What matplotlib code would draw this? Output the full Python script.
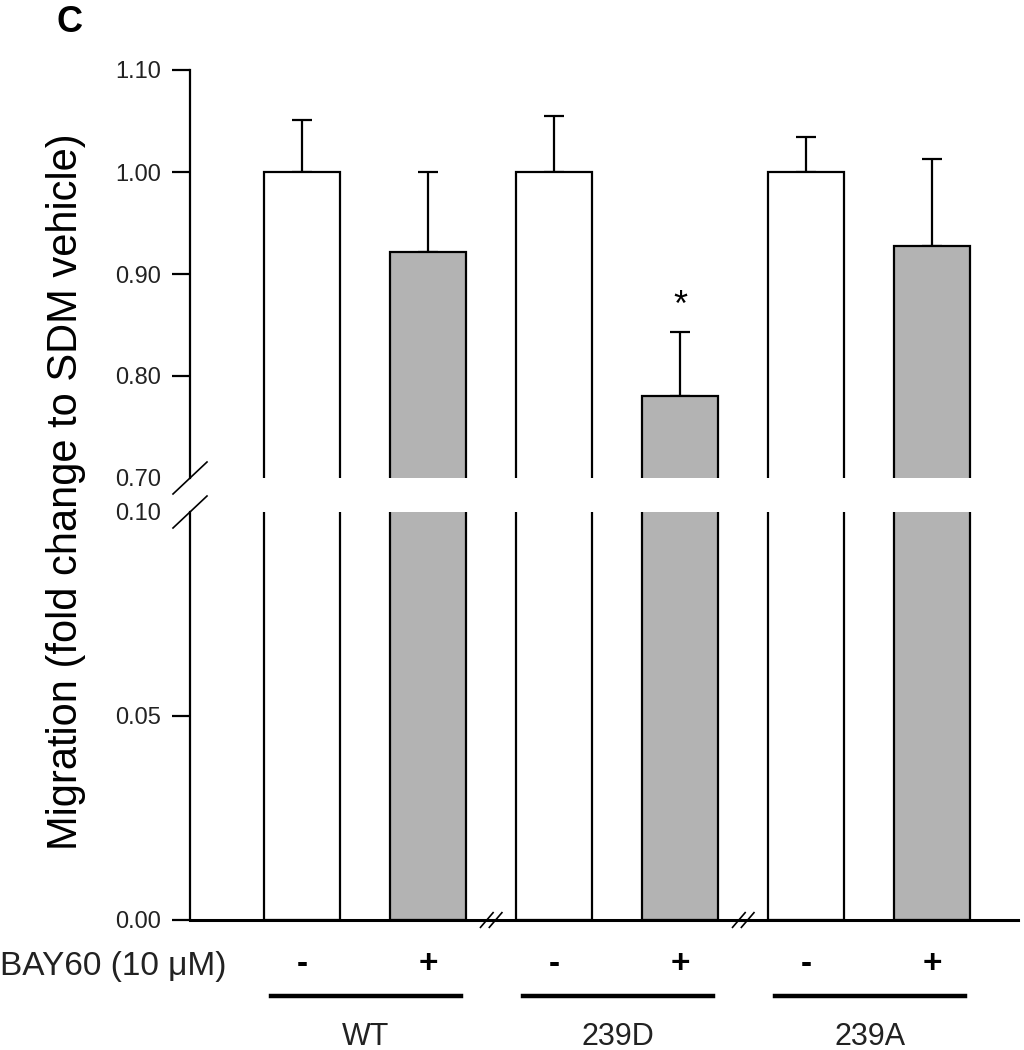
import matplotlib
matplotlib.use("Agg")
import matplotlib.pyplot as plt
import matplotlib.transforms as mtransforms
from matplotlib.lines import Line2D

plt.rcParams['font.family'] = ['Liberation Sans', 'DejaVu Sans']

# ---- data ----
groups = ["WT", "239D", "239A"]
treatments = ["-", "+", "-", "+", "-", "+"]
means = [1.000, 0.922, 1.000, 0.780, 1.000, 0.927]
errs = [0.051, 0.078, 0.055, 0.063, 0.034, 0.086]
bar_colors = ["white", "#b3b3b3", "white", "#b3b3b3", "white", "#b3b3b3"]
top_ticks = [0.70, 0.80, 0.90, 1.00, 1.10]
bottom_ticks = [0.00, 0.05, 0.10]
signif = ["", "", "", "*", "", ""]

x = list(range(len(means)))
W, H = 1024, 1050
fig = plt.figure(figsize=(W / 100, H / 100), dpi=100)

left_px, right_px = 190, 1018
def axrect(top_px, bot_px):
    return [left_px / W, 1 - bot_px / H, (right_px - left_px) / W, (bot_px - top_px) / H]

ax_top = fig.add_axes(axrect(70, 478))
ax_bot = fig.add_axes(axrect(512, 920))
xlim = (-0.89, 5.68)

lw = 1.6
for ax in (ax_top, ax_bot):
    ax.bar(x, means, width=0.6, color=bar_colors, edgecolor="black", linewidth=lw, zorder=2)
    ax.set_xlim(*xlim)
    ax.spines['top'].set_visible(False)
    ax.spines['right'].set_visible(False)
    ax.spines['left'].set_linewidth(lw)
    ax.set_xticks([])
    ax.tick_params(axis='y', direction='out', length=13, width=lw, labelsize=17, pad=8,
                   labelcolor='#222222')

ax_top.errorbar(x, means, yerr=[[0] * len(errs), errs], fmt='none', ecolor='black',
                elinewidth=lw, capsize=7, capthick=lw, zorder=1)
ax_top.set_ylim(0.70, 1.10)
ax_top.set_yticks(top_ticks)
ax_top.set_yticklabels([f"{t:.2f}" for t in top_ticks])
ax_top.spines['bottom'].set_visible(False)
ax_top.yaxis.get_major_ticks()[0].tick1line.set_visible(False)

ax_bot.set_ylim(0.0, 0.10)
ax_bot.set_yticks(bottom_ticks)
ax_bot.set_yticklabels([f"{t:.2f}" for t in bottom_ticks])
ax_bot.spines['bottom'].set_linewidth(2.2)
ax_bot.yaxis.get_major_ticks()[-1].tick1line.set_visible(False)

# significance marks
for xi, m, e, s in zip(x, means, errs, signif):
    if s:
        ax_top.text(xi, m + e + 0.008, s, ha='center', va='bottom', fontsize=26)

# y-axis break marks
dx = 17 / (right_px - left_px)
dy = 16 / 408
kw = dict(color='black', lw=1.2, clip_on=False)
ax_top.plot([-dx, dx], [-dy, dy], transform=ax_top.transAxes, **kw)
ax_bot.plot([-dx, dx], [1 - dy, 1 + dy], transform=ax_bot.transAxes, **kw)

# x-axis break marks
tb = mtransforms.blended_transform_factory(ax_bot.transData, ax_bot.transAxes)
for xb in (1.5, 3.5):
    for off in (-0.035, 0.035):
        ax_bot.plot([xb + off - 0.05, xb + off + 0.05], [-0.018, 0.018], transform=tb, **kw)

# labels
fig.text(66 / W, 1 - 492 / H, "Migration (fold change to SDM vehicle)", rotation=90,
         ha='center', va='center', fontsize=30)
fig.text(56 / W, 1 - 23 / H, "C", ha='left', va='center', fontsize=26, fontweight='bold')

tf = mtransforms.blended_transform_factory(ax_bot.transData, fig.transFigure)
fig.text(0 / W, 1 - 967 / H, "BAY60 (10 μM)", ha='left', va='center', fontsize=24,
         color='#222222')
for xi, t in zip(x, treatments):
    ax_bot.text(xi, 1 - 965 / H, t, transform=tf, ha='center', va='center',
                fontsize=24, fontweight='bold')

for gi, g in enumerate(groups):
    x0 = 2 * gi - 0.25
    x1 = 2 * gi + 1.26
    fig.add_artist(Line2D([x0, x1], [1 - 996 / H] * 2, transform=tf, color='black', lw=3.2))
    ax_bot.text((x0 + x1) / 2, 1 - 1037 / H, g, transform=tf, ha='center', va='center',
                fontsize=22, color='#222222')

fig.savefig("out.png", dpi=100)
